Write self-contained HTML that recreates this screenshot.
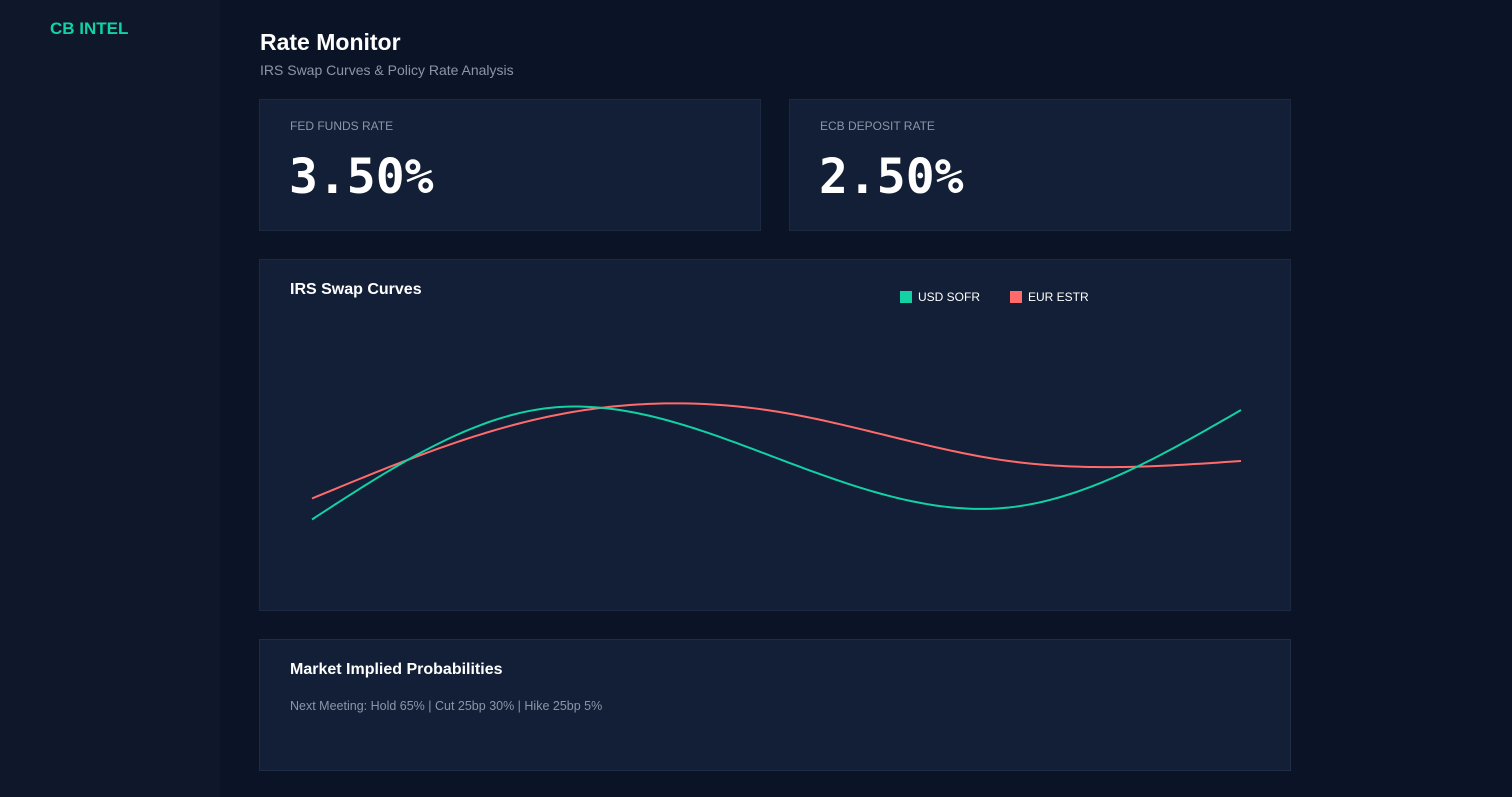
<!DOCTYPE html>
<html><head><meta charset="utf-8"><style>
*{margin:0;padding:0;box-sizing:border-box}
body{width:1512px;height:797px;background:#0b1426;font-family:"Liberation Sans",sans-serif;position:relative;overflow:hidden}
.side{position:absolute;left:0;top:0;width:220px;height:797px;background:#0e182a}
.logo{position:absolute;left:50px;top:19px;color:#12d1a5;font-weight:bold;font-size:17px}
h1{position:absolute;left:260px;top:29px;color:#fff;font-size:23px;font-weight:bold}
.sub{position:absolute;left:260px;top:62px;color:#8a96a8;font-size:14px}
.card{position:absolute;background:#131f36;border:1px solid #1c2940}
.lbl{position:absolute;left:30px;top:19px;color:#8a96a8;font-size:12px}
.val{position:absolute;left:29px;top:49px;color:#fff;font-family:"DejaVu Sans Mono","Liberation Mono",monospace;font-weight:bold;font-size:48px}
.ct{position:absolute;left:30px;top:21px;color:#fff;font-weight:bold;font-size:16px}
.leg{position:absolute;top:30px;font-size:12px;color:#fff;display:flex;align-items:center}
.sw{width:12px;height:12px;margin-right:6px;display:inline-block}
</style></head><body>
<div class="side"><div class="logo">CB INTEL</div></div>
<h1>Rate Monitor</h1>
<div class="sub">IRS Swap Curves &amp; Policy Rate Analysis</div>
<div class="card" style="left:259px;top:99px;width:502px;height:132px">
<div class="lbl">FED FUNDS RATE</div><div class="val">3.50%</div></div>
<div class="card" style="left:789px;top:99px;width:502px;height:132px">
<div class="lbl">ECB DEPOSIT RATE</div><div class="val">2.50%</div></div>
<div class="card" style="left:259px;top:259px;width:1032px;height:352px">
<div class="ct">IRS Swap Curves</div>
<div class="leg" style="left:640px"><span class="sw" style="background:#12d1a5"></span>USD SOFR</div>
<div class="leg" style="left:750px"><span class="sw" style="background:#ff6b6b"></span>EUR ESTR</div>
<svg id="chart" width="1030" height="350" style="position:absolute;left:0;top:0"></svg>
</div>
<div class="card" style="left:259px;top:639px;width:1032px;height:132px;border-color:#1f2d47">
<div class="ct">Market Implied Probabilities</div>
<div style="position:absolute;left:30px;top:59px;color:#8a96a8;font-size:12.5px">Next Meeting: Hold 65% | Cut 25bp 30% | Hike 25bp 5%</div>
</div>
<script>
const tenors=["1Y","2Y","5Y","10Y","30Y"];
const usdSofr=[3.27,4.01,3.68,3.35,4.00];
const eurEstr=[3.41,3.95,3.99,3.66,3.66];
const svg=document.getElementById('chart');
const x0=52,x1=981,yMin=3.0,yMax=4.2,py0=300,py1=120;
function xs(i){return x0+(x1-x0)*i/(tenors.length-1);}
function ys(v){return py0-(v-yMin)/(yMax-yMin)*(py0-py1);}
function natural(y){
  const n=y.length-1,a=new Array(n+1).fill(0),b=new Array(n+1).fill(0),c=new Array(n+1).fill(0),r=new Array(n+1).fill(0);
  b[0]=1;b[n]=1;
  for(let i=1;i<n;i++){a[i]=1;b[i]=4;c[i]=1;r[i]=6*(y[i-1]-2*y[i]+y[i+1]);}
  for(let i=1;i<=n;i++){const m=a[i]/b[i-1];b[i]-=m*c[i-1];r[i]-=m*r[i-1];}
  const M=new Array(n+1).fill(0);M[n]=r[n]/b[n];
  for(let i=n-1;i>=0;i--)M[i]=(r[i]-c[i]*M[i+1])/b[i];
  return M;
}
function path(vals){
  const M=natural(vals);let d='';
  for(let i=0;i<vals.length-1;i++){
    for(let k=0;k<=40;k++){
      const t=k/40;
      const v=(1-t)*vals[i]+t*vals[i+1]+((Math.pow(1-t,3)-(1-t))*M[i]+(Math.pow(t,3)-t)*M[i+1])/6;
      const px=xs(i+t),py=ys(v);
      d+=(d?' L':'M')+px.toFixed(2)+','+py.toFixed(2);
    }
  }
  return d;
}
function draw(vals,color,name){
  const el=document.createElementNS('http://www.w3.org/2000/svg','path');
  el.setAttribute('d',path(vals));el.setAttribute('fill','none');el.setAttribute('stroke',color);el.setAttribute('stroke-width','2');
  
  
  svg.appendChild(el);
}
draw(eurEstr,'#ff6b6b','eur-estr-line');
draw(usdSofr,'#12d1a5','usd-sofr-line');
</script>
</body></html>
